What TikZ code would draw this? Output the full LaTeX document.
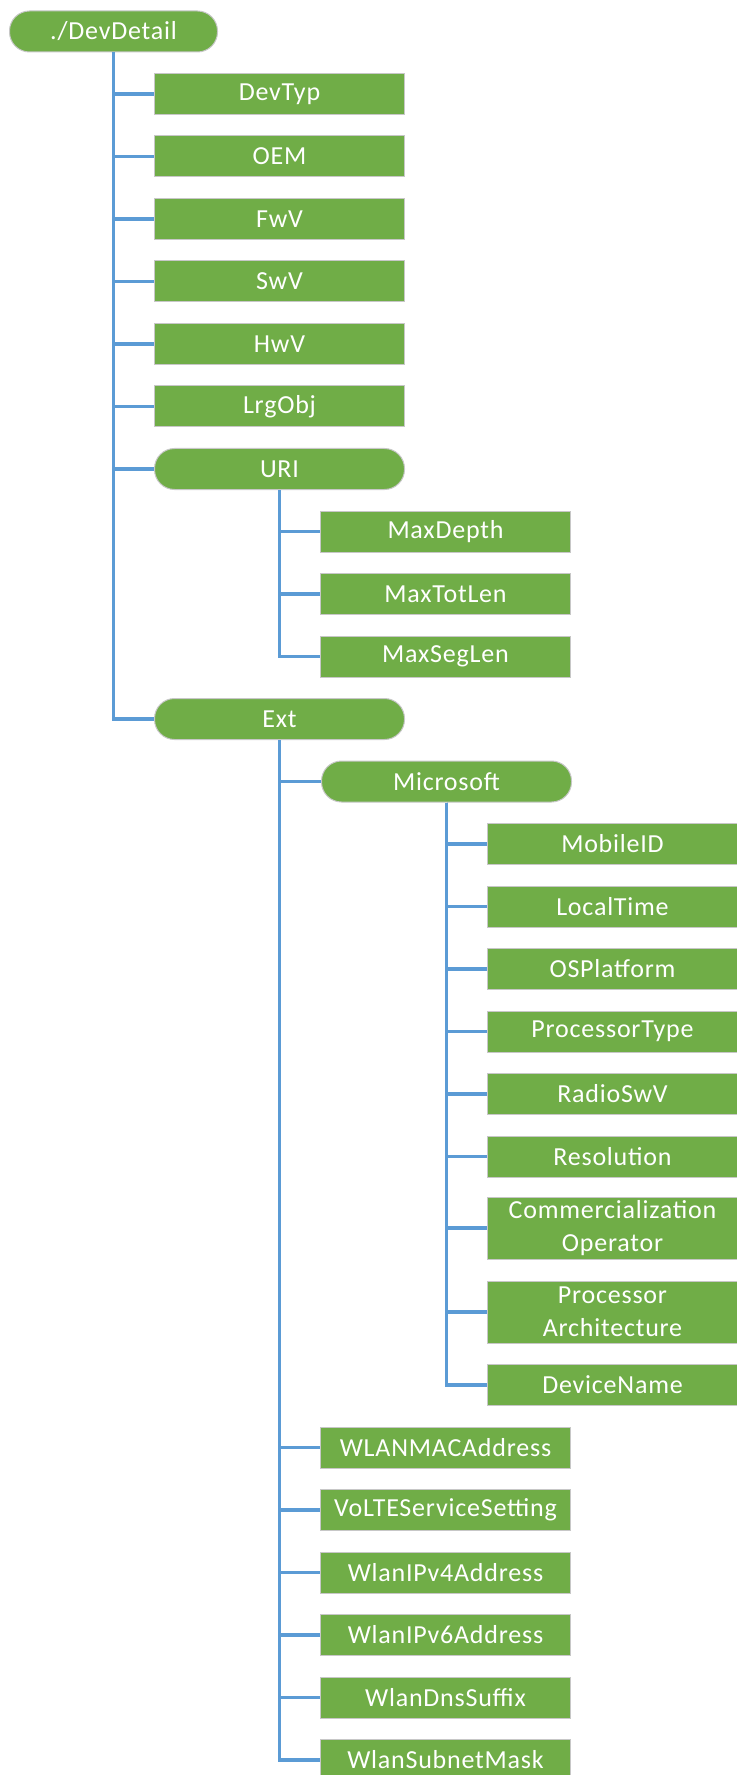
\documentclass[tikz,border=0pt]{standalone}
\usepackage{fontspec}
\setmainfont{Carlito}[LetterSpace=3]
\definecolor{leafgreen}{HTML}{70AD47}
\definecolor{linkblue}{HTML}{5B9BD5}

\begin{document}
\begin{tikzpicture}[x=0.5pt,y=-0.5pt,
box/.style={draw=black!22, line width=0.5pt, fill=leafgreen, text=white, anchor=west, align=center,
  minimum width=125pt, minimum height=20.5pt, inner sep=0pt, font=\fontsize{13}{16.5}\selectfont},
capsule/.style={box, rounded corners=10pt},
link/.style={draw=linkblue, line width=1.6pt}]
    \useasboundingbox (0,0) rectangle (736,1775);
    \node [capsule, minimum width=104pt] (devdetail) at (9,31.5) {./DevDetail};
    \foreach \n/\t [count=\i from 0] in {devtyp/DevTyp, oem/OEM, fwv/FwV, swv/SwV, hwv/HwV, lrgobj/LrgObj}
        \node [box] (\n) at (154,94+62.5*\i) {\t};
    \node [capsule] (uri) at (154,469) {URI};
    \foreach \n/\t [count=\i from 0] in {maxdepth/MaxDepth, maxtotlen/MaxTotLen, maxseglen/MaxSegLen}
        \node [box] (\n) at (320,531.5+62.5*\i) {\t};
    \node [capsule] (ext) at (154,719) {Ext};
    \node [capsule] (microsoft) at (321,781.5) {Microsoft};
    \foreach \n/\t [count=\i from 0] in {mobileid/MobileID, localtime/LocalTime, osplatform/OSPlatform,
        processortype/ProcessorType, radioswv/RadioSwV, resolution/Resolution}
        \node [box] (\n) at (487,844+62.5*\i) {\t};
    \node [box, minimum height=31pt] (commop) at (487,1228) {Commercialization\\Operator};
    \node [box, minimum height=31pt] (procarch) at (487,1312) {Processor\\Architecture};
    \node [box] (devicename) at (487,1385) {DeviceName};
    \foreach \n/\t [count=\i from 0] in {wlanmac/WLANMACAddress, volte/VoLTEServiceSetting, ipvfour/WlanIPv4Address,
        ipvsix/WlanIPv6Address, dnssuffix/WlanDnsSuffix, subnetmask/WlanSubnetMask}
        \node [box] (\n) at (320,1447.5+62.5*\i) {\t};

    \foreach \c in {devtyp, oem, fwv, swv, hwv, lrgobj, uri, ext}
        \draw [link] (devdetail.south) |- (\c.west);
    \foreach \c in {maxdepth, maxtotlen, maxseglen}
        \draw [link] (uri.south) |- (\c.west);
    \foreach \c in {microsoft, wlanmac, volte, ipvfour, ipvsix, dnssuffix, subnetmask}
        \draw [link] (ext.south) |- (\c.west);
    \foreach \c in {mobileid, localtime, osplatform, processortype, radioswv, resolution, commop, procarch, devicename}
        \draw [link] (microsoft.south) |- (\c.west);
\end{tikzpicture}
\end{document}
